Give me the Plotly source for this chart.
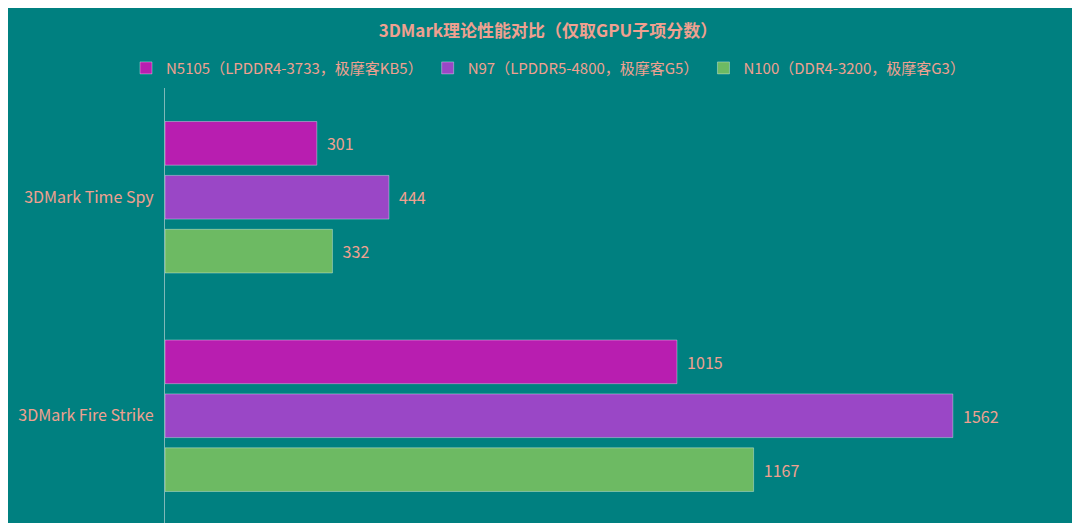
import plotly.graph_objects as go

categories = ["3DMark Time Spy", "3DMark Fire Strike"]
series_names = [
    "N5105（LPDDR4-3733，极摩客KB5）",
    "N97（LPDDR5-4800，极摩客G5）",
    "N100（DDR4-3200，极摩客G3）",
]
series_values = [
    [301, 1015],
    [444, 1562],
    [332, 1167],
]
colors = ["#B81EB0", "#9A47C6", "#6DBA63"]
text_color = "#F0A090"

fig = go.Figure()
for name, vals, c in zip(series_names, series_values, colors):
    fig.add_trace(go.Bar(
        y=categories, x=vals, name=name, orientation="h",
        marker=dict(color=c, line=dict(color="rgba(255,255,255,0.35)", width=1)),
        text=vals, texttemplate="  %{text}", textposition="outside",
        textfont=dict(color=text_color, size=16),
        cliponaxis=False,
    ))

fig.update_layout(
    width=1080, height=523,
    paper_bgcolor="#008080", plot_bgcolor="#008080",
    font=dict(family="Noto Sans CJK SC, Noto Sans", color=text_color, size=15),
    title=dict(text="<b>3DMark理论性能对比（仅取GPU子项分数）</b>",
               x=0.5, y=0.955, xanchor="center", yanchor="middle",
               font=dict(size=17, color=text_color)),
    legend=dict(orientation="h", xref="container", yref="container",
                x=0.5, xanchor="center", y=0.885, yanchor="middle",
                font=dict(size=15, color=text_color), itemwidth=30),
    barmode="group", bargap=0.26, bargroupgap=0.19,
    margin=dict(l=157, r=0, t=80, b=6),
    xaxis=dict(range=[0, 1830], visible=False),
    yaxis=dict(autorange="reversed", showline=True, linecolor="#7FB8B8", linewidth=1,
               ticks="", showgrid=False, ticksuffix="  ", tickfont=dict(size=16, color=text_color)),
    showlegend=True,
)

fig.write_html("out.html")
